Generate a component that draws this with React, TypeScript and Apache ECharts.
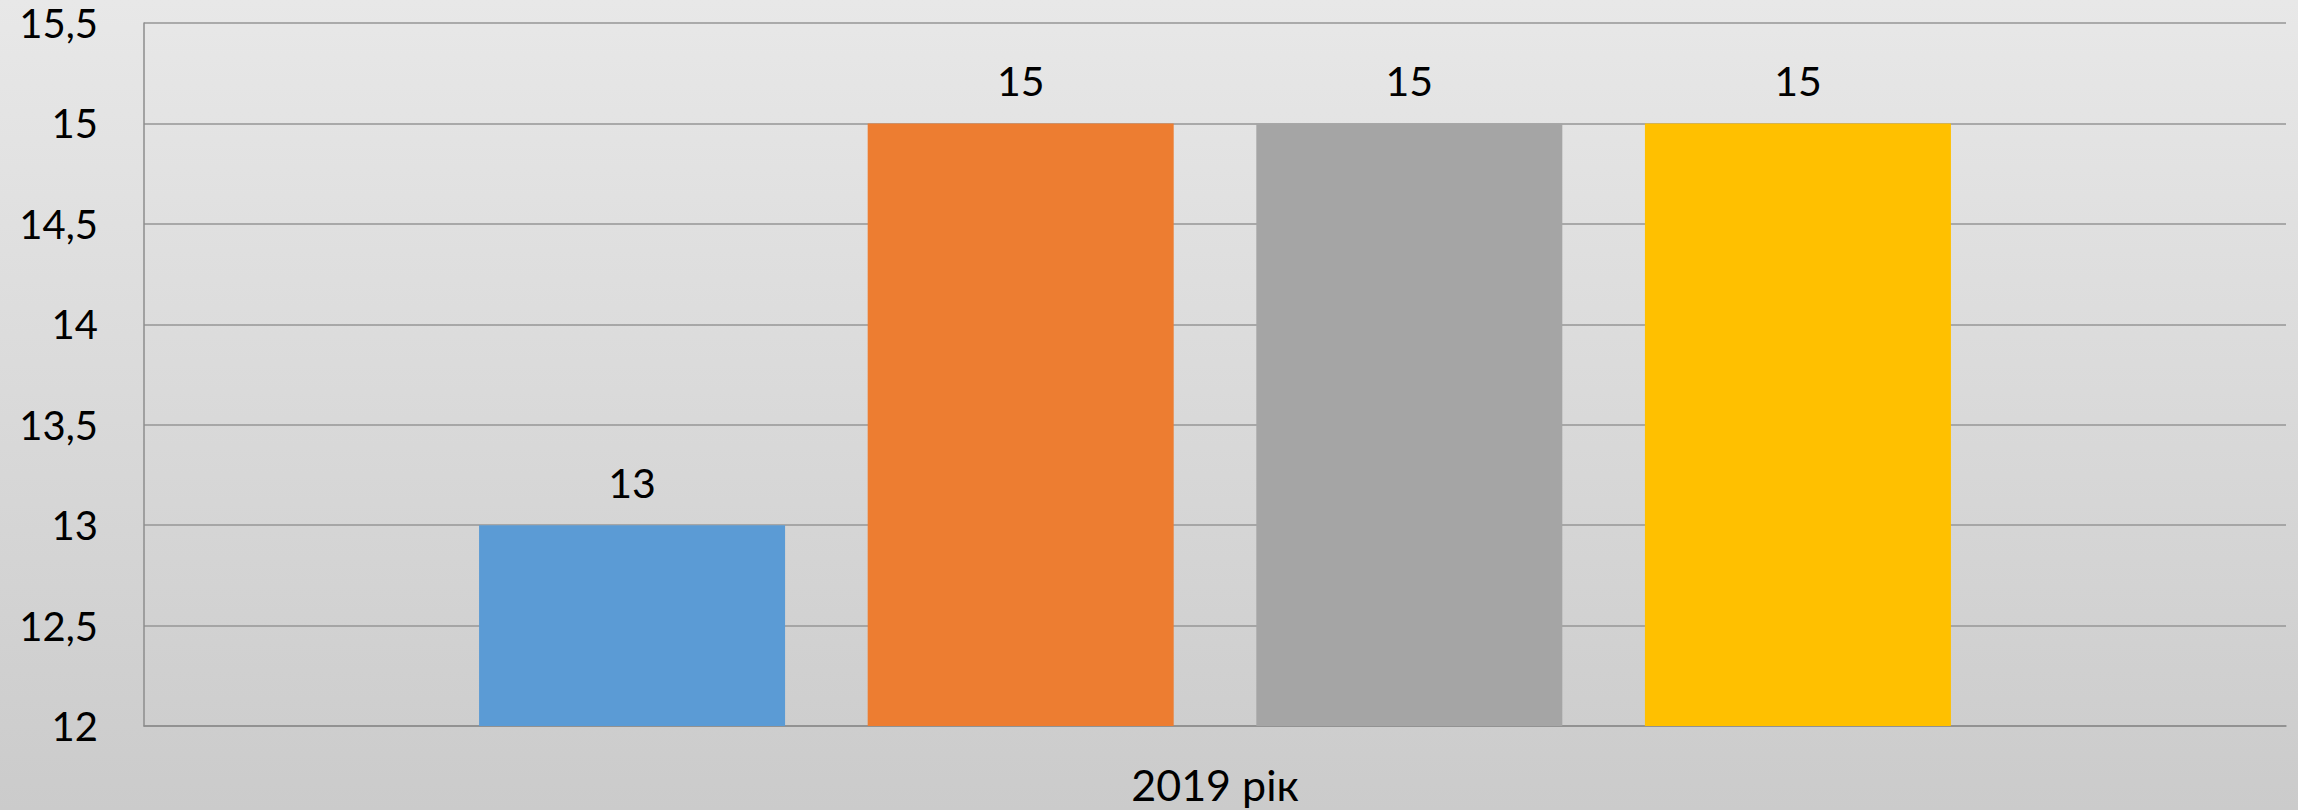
import React, { useEffect, useRef } from "react";
import * as echarts from "echarts";

const categories: string[] = ["2019 рік"];
const seriesNames: string[] = ["Ряд 1", "Ряд 2", "Ряд 3", "Ряд 4"];
const seriesValues: number[][] = [[13], [15], [15], [15]];
const seriesColors: string[] = ["#5B9BD5", "#ED7D31", "#A5A5A5", "#FFC000"];
const yMin = 12;
const yMax = 15.5;
const yStep = 0.5;

const FONT = "Lato, 'Open Sans', 'Noto Sans', sans-serif";

export default function App() {
  const ref = useRef<HTMLDivElement>(null);

  useEffect(() => {
    if (!ref.current) return;
    const chart = echarts.init(ref.current, undefined, { renderer: "svg" });
    chart.setOption({
      animation: false,
      backgroundColor: {
        type: "linear",
        x: 0,
        y: 0,
        x2: 0,
        y2: 1,
        colorStops: [
          { offset: 0, color: "#e8e8e8" },
          { offset: 1, color: "#cbcbcb" },
        ],
      },
      grid: { left: 144, right: 12, top: 23, bottom: 84, containLabel: false },
      xAxis: {
        type: "category",
        data: categories,
        axisLine: { show: true, lineStyle: { color: "#8c8c8c", width: 1.5 } },
        axisTick: { show: false },
        axisLabel: {
          color: "#000",
          fontSize: 43,
          fontFamily: FONT,
          margin: 37,
        },
      },
      yAxis: {
        type: "value",
        min: yMin,
        max: yMax,
        interval: yStep,
        axisLine: { show: true, lineStyle: { color: "#8c8c8c", width: 1.5 } },
        axisTick: { show: false },
        splitLine: { show: true, lineStyle: { color: "#969696", width: 1.5 } },
        axisLabel: {
          color: "#000",
          fontSize: 40,
          fontFamily: FONT,
          margin: 46,
          formatter: (v: number) => String(v).replace(".", ","),
        },
      },
      series: seriesNames.map((name, i) => ({
        name,
        type: "bar",
        data: seriesValues[i],
        barWidth: 306,
        barGap: "27%",
        itemStyle: { color: seriesColors[i] },
        label: {
          show: true,
          position: "top",
          distance: 22,
          color: "#000",
          fontSize: 41,
          fontFamily: FONT,
        },
      })),
    });
    return () => chart.dispose();
  }, []);

  return (
    <div
      ref={ref}
      style={{ position: "fixed", left: 0, top: 0, width: 2298, height: 810 }}
    />
  );
}
